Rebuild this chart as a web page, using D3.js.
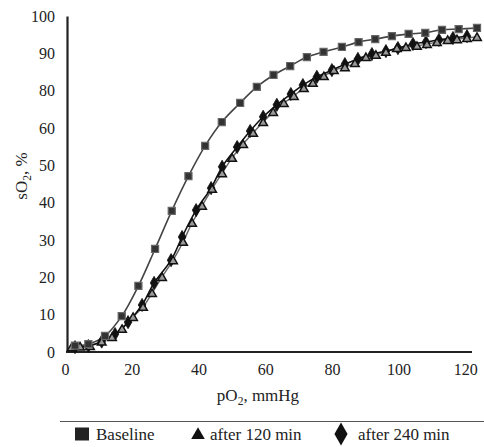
<!DOCTYPE html>
<html><head><meta charset="utf-8">
<script src="https://cdn.jsdelivr.net/npm/d3@7"></script>
<style>
body{margin:0;background:#fff}svg{display:block}
svg text{font-family:"Liberation Serif","DejaVu Serif","Times New Roman",serif !important;}
</style>
</head><body>
<script>
// Data (y in axis-position units: axis labels are 0..60,80,90,100 evenly spaced)
const yTickValues = [0,10,20,30,40,50,60,70,80,90];
const yTickLabels = ["0","10","20","30","40","50","60","80","90","100"];
const xTickValues = [0,20,40,60,80,100,120];

const baselineX = [3,7,12,17,22,27,32,37,42,47,52.5,57.5,62.5,67.5,72.5,77.5,83,88,93,98,103,108,113,118,123.5];
const baselineY = [1.7,2.1,4.3,9.6,17.7,27.6,37.8,47.1,55.2,61.6,66.7,71,74.2,76.6,79,80.4,81.7,83,83.8,84.6,85.2,85.5,86.3,86.5,86.8];

const t120X = [2,4.5,7.5,11,14.1,17.1,20.4,23.4,26.1,29.1,32.4,35.4,38.1,41.1,44.1,47.1,50.1,53.4,56.4,59.4,62.4,65.6,68.6,71.6,74.3,77.6,80.6,83.9,86.9,90.2,93.2,96.2,99.5,102.2,105.5,108.5,111.5,114.7,117.5,120.5,123.5];
const t120Y = [1.3,1.5,1.6,2.8,4.0,6.2,9.4,12.1,15.8,20.1,24.6,29.5,34.6,39.2,43.7,47.9,52.0,55.7,58.7,61.6,64.3,66.7,68.6,70.7,72.1,73.9,75.5,76.3,77.4,79.0,79.6,80.4,81.4,81.7,82.0,82.5,83.0,83.6,83.8,84.1,84.4];

const t240X = [3,7,11,15,18.9,23.1,26.7,31.8,35.1,39.3,43.8,47.1,51.6,55.5,59.4,63.5,67.7,71.3,75.5,80,83.9,87.8,92,96.2,99.8,104.3,108.2,112.1,116.3,120.5];
const t240Y = [1.3,1.6,2.8,4.8,8.0,12.6,18.5,24.6,30.8,38.0,43.9,49.6,54.9,59.2,63.0,66.2,69.1,71.5,73.7,75.5,77.1,78.5,79.8,80.6,81.4,82.5,83.0,83.6,84.1,84.6];

const legendLabels = ["Baseline","after 120 min","after 240 min"];

const W = 484, H = 447;
const svg = d3.select("body").append("svg").attr("width", W).attr("height", H);

const x = d3.scaleLinear().domain([0,122]).range([65,472]);
const y = d3.scaleLinear().domain([0,90]).range([352,16]);

// Axes
const yAxis = d3.axisLeft(y).tickValues(yTickValues).tickSize(0).tickPadding(12)
  .tickFormat((d,i) => yTickLabels[i]);
const gy = svg.append("g").attr("transform", `translate(${x(0)+2},0)`).call(yAxis);
gy.select(".domain").attr("stroke", "#222").attr("stroke-width", 2.2);
gy.selectAll("text").attr("font-size", 16).attr("fill", "#222");

const xAxis = d3.axisBottom(x).tickValues(xTickValues).tickSize(0).tickPadding(12);
const gx = svg.append("g").attr("transform", `translate(0,${y(0)})`).call(xAxis);
gx.select(".domain").attr("stroke", "#222").attr("stroke-width", 2.2).attr("d", `M${x(0)+1},0H${x(122)}`);
gx.selectAll("text").attr("font-size", 16).attr("fill", "#222");

// Axis titles
const xt = svg.append("text").attr("x", 258).attr("y", 401).attr("text-anchor", "middle")
  .attr("font-size", 17).attr("fill", "#222");
xt.append("tspan").text("pO");
xt.append("tspan").text("2").attr("font-size", 11.5).attr("dy", 3.5);
xt.append("tspan").text(", mmHg").attr("dy", -3.5);

const yt = svg.append("text").attr("transform", "translate(27,176) rotate(-90)").attr("text-anchor", "middle")
  .attr("font-size", 17).attr("fill", "#222");
yt.append("tspan").text("sO");
yt.append("tspan").text("2").attr("font-size", 11.5).attr("dy", 3.5);
yt.append("tspan").text(", %").attr("dy", -3.5);

const line = d3.line().x(d => x(d[0])).y(d => y(d[1])).curve(d3.curveCatmullRom.alpha(0.5));
const zip = (a,b) => a.map((v,i) => [v,b[i]]);

const sBase = zip(baselineX, baselineY);
const s120 = zip(t120X, t120Y);
const s240 = zip(t240X, t240Y);

svg.append("path").datum(sBase).attr("d", line).attr("fill","none").attr("stroke","#444").attr("stroke-width",1.6);
svg.append("path").datum(s120).attr("d", line).attr("fill","none").attr("stroke","#666").attr("stroke-width",1.4);
svg.append("path").datum(s240).attr("d", line).attr("fill","none").attr("stroke","#111").attr("stroke-width",1.6);

const sq = d3.symbol().type(d3.symbolSquare).size(50);
const tri = d3.symbol().type(d3.symbolTriangle).size(32);
const dia = d3.symbol().type(d3.symbolDiamond).size(50);

svg.append("g").selectAll("path").data(s240).join("path")
  .attr("transform", d => `translate(${x(d[0])},${y(d[1])})`)
  .attr("d", dia).attr("fill", "#111").attr("stroke", "#111").attr("stroke-width", 0.8);

svg.append("g").selectAll("path").data(s120).join("path")
  .attr("transform", d => `translate(${x(d[0])},${y(d[1])+1})`)
  .attr("d", tri).attr("fill", "#9a9a9a").attr("stroke", "#111").attr("stroke-width", 1.5);

svg.append("g").selectAll("path").data(sBase).join("path")
  .attr("transform", d => `translate(${x(d[0])},${y(d[1])})`)
  .attr("d", sq).attr("fill", "#333").attr("stroke", "#666").attr("stroke-width", 1.2);

// Legend
svg.append("line").attr("x1", 60).attr("x2", 484).attr("y1", 421.5).attr("y2", 421.5)
  .attr("stroke", "#555").attr("stroke-width", 1);

const lg = svg.append("g");
lg.append("rect").attr("x", 75).attr("y", 427.5).attr("width", 14).attr("height", 13).attr("fill", "#222");
lg.append("path").attr("d", d3.symbol().type(d3.symbolTriangle).size(80)).attr("transform", "translate(198,435)").attr("fill", "#111");
lg.append("path").attr("d", d3.symbol().type(d3.symbolDiamond).size(150)).attr("transform", "translate(341,434)").attr("fill", "#111");
const lx = [96, 210, 358];
legendLabels.forEach((t,i) => {
  lg.append("text").attr("x", lx[i]).attr("y", 440).attr("font-size", 17).attr("fill", "#222").text(t);
});
</script>
</body></html>
